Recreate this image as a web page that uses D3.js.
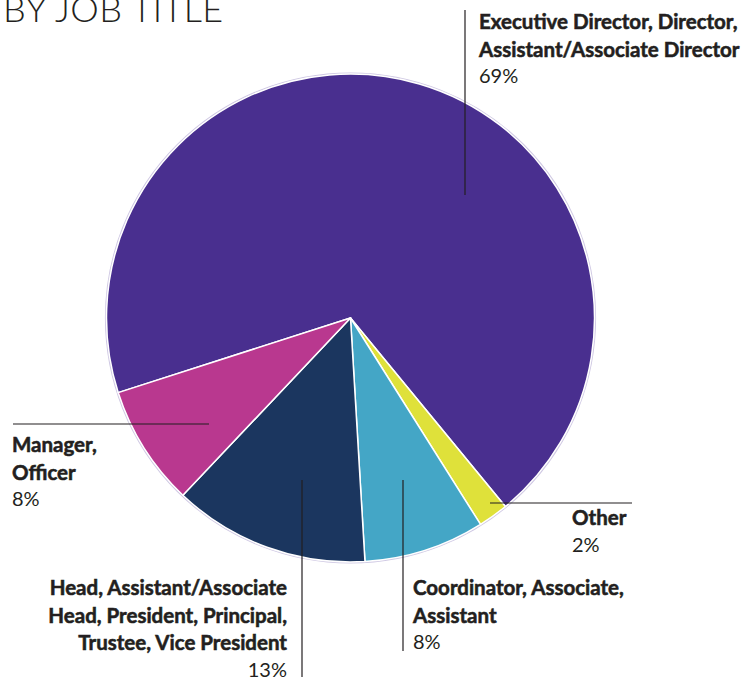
<!DOCTYPE html>
<html>
<head>
<meta charset="utf-8">
<script src="https://cdn.jsdelivr.net/npm/d3@7"></script>
<style>
  body { margin: 0; background: #fff; }
  svg { display: block; }
  .lbl { font-family: Lato, "Open Sans", sans-serif; fill: #231f20; }
  .lbl .b { font-weight: 700; stroke: #231f20; stroke-width: 0.55px; }
</style>
</head>
<body>
<div id="chart"></div>
<script>
// donnees du camembert
const categories = [
  "Executive Director, Director, Assistant/Associate Director",
  "Other",
  "Coordinator, Associate, Assistant",
  "Head, Assistant/Associate Head, President, Principal, Trustee, Vice President",
  "Manager, Officer"
];
const values = [69, 2, 8, 13, 8];
const colorsList = ["#492f8f", "#dfe13a", "#44a6c6", "#1b365f", "#b9388f"];

// lignes des etiquettes
const labelLines = [
  ["Executive Director, Director,", "Assistant/Associate Director"],
  ["Other"],
  ["Coordinator, Associate,", "Assistant"],
  ["Head, Assistant/Associate", "Head, President, Principal,", "Trustee, Vice President"],
  ["Manager,", "Officer"]
];
const pctLabels = ["69%", "2%", "8%", "13%", "8%"];

const width = 753, height = 679;
const cx = 350.5, cy = 318, radius = 244;

const svg = d3.select("#chart").append("svg")
  .attr("width", width)
  .attr("height", height);

// titre (coupe en haut comme l'original)
svg.append("text")
  .attr("x", 3)
  .attr("y", 22)
  .style("font-family", "Lato, 'Open Sans', sans-serif")
  .style("font-weight", 300)
  .style("font-size", "36px")
  .style("letter-spacing", "0.4px")
  .style("fill", "#231f20")
  .text("BY JOB TITLE");

const color = d3.scaleOrdinal().domain(categories).range(colorsList);

const start = 252.2 * Math.PI / 180;
const pie = d3.pie().sort(null).value(d => d.v)
  .startAngle(start).endAngle(start + 2 * Math.PI);
const arc = d3.arc().innerRadius(0).outerRadius(radius);

const dataPie = categories.map((c, i) => ({ c: c, v: values[i] }));

const g = svg.append("g").attr("transform", `translate(${cx},${cy})`);

// contour lavande
g.append("circle").attr("r", radius + 0.8)
  .attr("fill", "none").attr("stroke", "#cfc8e3").attr("stroke-width", 1.6);

g.selectAll("path")
  .data(pie(dataPie))
  .enter()
  .append("path")
  .attr("d", arc)
  .attr("fill", d => color(d.data.c))
  .attr("stroke", "#fff")
  .attr("stroke-width", 1.5)
  .attr("stroke-linejoin", "round");

// positions des etiquettes (x, y premiere ligne, ancrage) et des traits
const layout = [
  { x: 479, y: 29, anchor: "start", line: [465, 10, 465, 195] },
  { x: 572, y: 525, anchor: "start", line: [490, 503, 632, 503] },
  { x: 413, y: 595, anchor: "start", line: [403, 480, 403, 651] },
  { x: 287, y: 595, anchor: "end", line: [302, 480, 302, 677] },
  { x: 12, y: 452, anchor: "start", line: [13, 424, 209, 424] }
];

const lh = 27.5;
layout.forEach((p, i) => {
  svg.append("line")
    .attr("x1", p.line[0]).attr("y1", p.line[1])
    .attr("x2", p.line[2]).attr("y2", p.line[3])
    .attr("stroke", "#231f20").attr("stroke-width", 1.2);

  const t = svg.append("text").attr("class", "lbl")
    .attr("text-anchor", p.anchor)
    .style("font-size", "20.5px");
  labelLines[i].forEach((s, j) => {
    t.append("tspan").attr("class", "b")
      .attr("x", p.x).attr("y", p.y + j * lh).text(s);
  });
  t.append("tspan")
    .attr("x", p.x).attr("y", p.y + labelLines[i].length * lh - 1)
    .style("font-weight", 400)
    .style("font-size", "20px")
    .text(pctLabels[i]);
});
</script>
</body>
</html>
